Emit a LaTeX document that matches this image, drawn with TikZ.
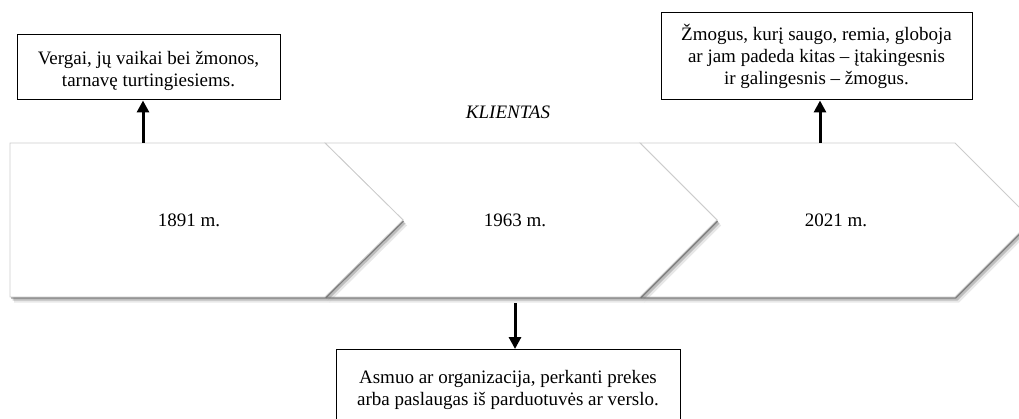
\documentclass[tikz,border=0pt]{standalone}
\usepackage{fontspec}
\setmainfont{Liberation Serif}
\usetikzlibrary{arrows.meta,shadows}

\tikzset{
    chevron/.style={fill=white, draw=black!20, line width=0.8pt,
        drop shadow={shadow xshift=1pt, shadow yshift=-1.5pt, opacity=0.5, fill=black!75},
        drop shadow={shadow xshift=2.5pt, shadow yshift=-3.5pt, opacity=0.25, fill=black!75},
        drop shadow={shadow xshift=4pt, shadow yshift=-5.5pt, opacity=0.12, fill=black!75}},
    infobox/.style={draw, line width=1pt, fill=white, align=center, inner sep=0pt},
    pointer/.style={-{Triangle[width=12pt,length=12pt]}, line width=3pt},
}

\begin{document}
\begin{tikzpicture}[x=1pt, y=1pt, font=\fontsize{19}{22}\selectfont]
    \useasboundingbox (0,0) rectangle (1019,418);
    \clip (0,0) rectangle (1019,418);

    % time line, right to left so each shadow falls on the next piece
    \draw[chevron] (640,275) -- (955,275) -- (1032,198) -- (955,121) -- (640,121) -- (717,198) -- cycle;
    \draw[chevron] (325,275) -- (640,275) -- (717,198) -- (640,121) -- (325,121) -- (403,198) -- cycle;
    \draw[chevron] (10,275) -- (325,275) -- (403,198) -- (325,121) -- (10,121) -- cycle;

    \node (y1891) at (189,198) {1891 m.};
    \node (y1963) at (515,198) {1963 m.};
    \node (y2021) at (836,198) {2021 m.};
    \node[font=\fontsize{19}{22}\selectfont\itshape] (klientas) at (508,306) {KLIENTAS};

    \coordinate (top1) at (143,275);
    \coordinate (top3) at (820,275);
    \coordinate (bot2) at (515,115);

    \node[infobox, minimum width=263pt, minimum height=65pt] (vergai) at (148.5,350.5)
        {\rule{0pt}{21pt}Vergai, jų vaikai bei žmonos,\\tarnavę turtingiesiems.};
    \node[infobox, minimum width=311pt, minimum height=87pt] (zmogus) at (816.5,361.5)
        {Žmogus, kurį saugo, remia, globoja\\ar jam padeda kitas – įtakingesnis\\ir galingesnis – žmogus.};
    \node[infobox, minimum width=344pt, minimum height=80pt, anchor=north] (asmuo) at (508,69)
        {Asmuo ar organizacija, perkanti prekes\\arba paslaugas iš parduotuvės ar verslo.};

    \draw[pointer] (top1) -- (top1 |- vergai.south);
    \draw[pointer] (top3) -- (top3 |- zmogus.south);
    \draw[pointer] (bot2) -- (bot2 |- asmuo.north);
\end{tikzpicture}
\end{document}
